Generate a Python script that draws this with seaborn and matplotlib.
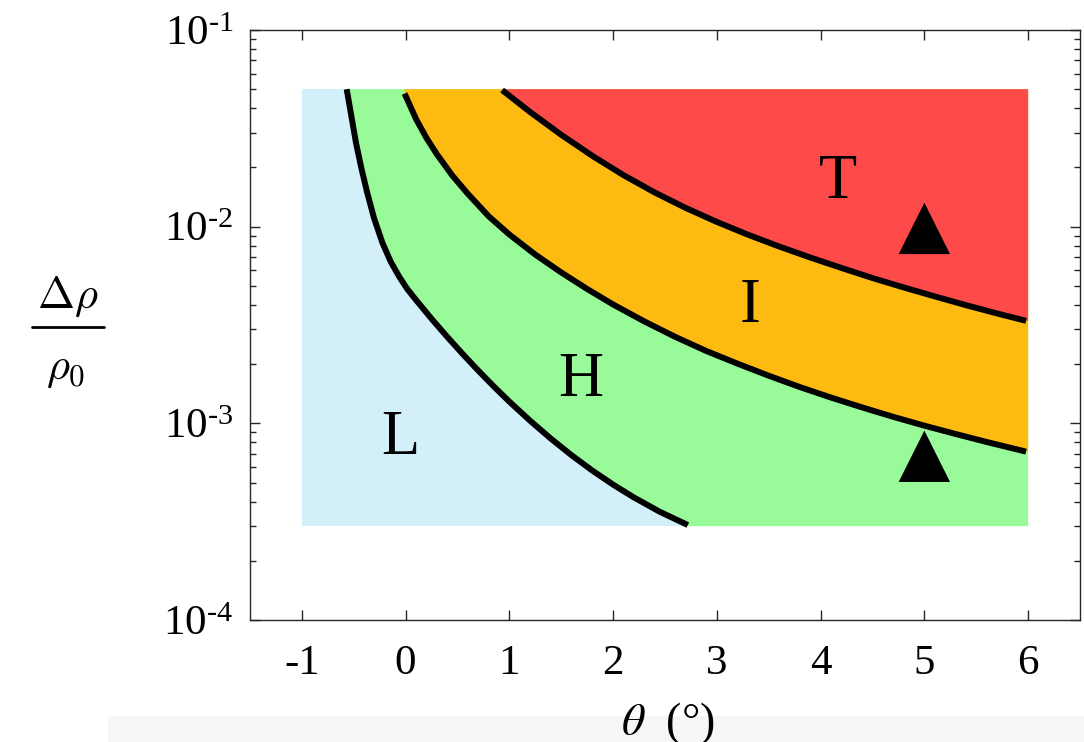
import numpy as np
import pandas as pd
import matplotlib
matplotlib.use("Agg")
import matplotlib.pyplot as plt
import seaborn as sns
from matplotlib.patches import Rectangle
from matplotlib.lines import Line2D
from matplotlib.ticker import LogLocator, FixedLocator, FuncFormatter, NullFormatter

# Regime boundaries in the (theta, delta rho / rho0) plane
theta_lh = [-0.568, -0.525, -0.478, -0.427, -0.372, -0.305, -0.223, -0.142, -0.060, 0.016,
            0.10, 0.25, 0.40, 0.55, 0.70, 0.85, 1.0, 1.2, 1.4, 1.6, 1.8, 2.0, 2.2, 2.45, 2.72]
rho_lh = [0.0500, 0.0370, 0.02664, 0.01988, 0.01501, 0.01107, 0.00826, 0.00661, 0.00555,
          0.00482, 0.00424, 0.00340, 0.002756, 0.002252, 0.001855, 0.001540, 0.001289,
          0.001031, 8.36e-4, 6.88e-4, 5.75e-4, 4.88e-4, 4.20e-4, 3.55e-4, 3.04e-4]

theta_hi = [-0.01, 0.1, 0.2, 0.3, 0.45, 0.6, 0.8, 1.0, 1.25, 1.5, 1.75, 2.0, 2.3, 2.6, 2.9,
            3.2, 3.5, 3.8, 4.1, 4.4, 4.7, 5.0, 5.3, 5.6, 5.98]
rho_hi = [0.0475, 0.0353, 0.0283, 0.0234, 0.0182, 0.01469, 0.0113, 0.00912, 0.00721,
          0.00585, 0.00482, 0.00402, 0.00330, 0.00275, 0.00233, 0.00201, 0.001746,
          0.001529, 0.001352, 0.001205, 0.001079, 9.73e-4, 8.83e-4, 8.04e-4, 7.18e-4]

theta_it = [0.93, 1.2, 1.5, 1.8, 2.1, 2.4, 2.7, 3.0, 3.3, 3.6, 3.9, 4.2, 4.5, 4.8, 5.1,
            5.4, 5.7, 5.98]
rho_it = [0.0495, 0.03828, 0.02931, 0.02291, 0.01828, 0.01493, 0.01245, 0.01057, 0.00910,
          0.00793, 0.00697, 0.00617, 0.00548, 0.00491, 0.00442, 0.00399, 0.00362, 0.00332]

# Parameter-space extent of the map
theta_range = [-1.0, 6.0]
rho_range = [3.0e-4, 5.0e-2]

# Simulated cases
case_theta = [5.0, 5.0]
case_rho = [9.8e-3, 6.8e-4]

# Regime labels
regime_names = ["L", "H", "I", "T"]
regime_theta = [-0.05, 1.69, 3.32, 4.17]
regime_rho = [8.3e-4, 1.64e-3, 3.92e-3, 1.66e-2]

colors = {"L": "#d2effa", "H": "#99fa99", "I": "#fdbb12", "T": "#ff4a4a"}

sns.set_theme(style="white")
plt.rcParams["font.family"] = ["Liberation Serif", "DejaVu Serif"]
plt.rcParams["mathtext.fontset"] = "custom"
plt.rcParams["mathtext.rm"] = "Liberation Serif"
plt.rcParams["mathtext.it"] = "Liberation Serif:italic"
plt.rcParams["text.color"] = "black"
plt.rcParams["xtick.color"] = "black"
plt.rcParams["ytick.color"] = "black"

fig = plt.figure(figsize=(10.84, 7.42), dpi=100)
ax = fig.add_axes([250 / 1084, 122 / 742, 830 / 1084, 590 / 742])

lo, hi = rho_range
x0, x1 = theta_range

# Background regime (L) covers the whole map
ax.fill_between(theta_range, lo, hi, color=colors["L"], lw=0, zorder=1)

# H: everything right of the L/H boundary
poly_x = theta_lh + [theta_lh[-1], x1, x1, theta_lh[0]]
poly_y = rho_lh + [lo, lo, hi, hi]
ax.fill(poly_x, poly_y, color=colors["H"], lw=0, zorder=2)

# I: above the H/I boundary
poly_x = theta_hi + [x1, x1, theta_hi[0]]
poly_y = rho_hi + [rho_hi[-1], hi, hi]
ax.fill(poly_x, poly_y, color=colors["I"], lw=0, zorder=3)

# T: above the I/T boundary
poly_x = theta_it + [x1, x1, theta_it[0]]
poly_y = rho_it + [rho_it[-1], hi, hi]
ax.fill(poly_x, poly_y, color=colors["T"], lw=0, zorder=4)

# Boundary curves
for tx, ry in [(theta_lh, rho_lh), (theta_hi, rho_hi), (theta_it, rho_it)]:
    df = pd.DataFrame({"theta": tx, "rho": ry})
    sns.lineplot(data=df, x="theta", y="rho", sort=False, color="black",
                 lw=4.3, ax=ax, zorder=5, solid_capstyle="butt",
                 solid_joinstyle="round")

# Simulation cases
cases = pd.DataFrame({"theta": case_theta, "rho": case_rho})
sns.scatterplot(data=cases, x="theta", y="rho", marker="^", s=37 ** 2,
                color="black", edgecolor="none", ax=ax, zorder=6)

for name, tx, ry in zip(regime_names, regime_theta, regime_rho):
    ax.text(tx, ry, name, fontsize=45, ha="center", va="center", zorder=7,
            color="black")

ax.set_yscale("log")
ax.set_xlim(-1.5, 6.5)
ax.set_ylim(1e-4, 1e-1)
ax.set_xlabel("")
ax.set_ylabel("")

ax.xaxis.set_major_locator(FixedLocator(range(-1, 7)))
ax.xaxis.set_major_formatter(FuncFormatter(lambda v, p: f"{int(round(v))}"))
ax.yaxis.set_major_locator(FixedLocator([1e-4, 1e-3, 1e-2, 1e-1]))
ax.yaxis.set_major_formatter(FuncFormatter(
    lambda v, p: r"$\mathregular{10^{\text{-}%d}}$" % abs(int(round(np.log10(v))))))
ax.yaxis.set_minor_locator(LogLocator(base=10, subs=np.arange(2, 10), numticks=20))
ax.yaxis.set_minor_formatter(NullFormatter())

spine_color = "#262626"
for s in ax.spines.values():
    s.set_visible(True)
    s.set_color(spine_color)
    s.set_linewidth(1.0)

ax.tick_params(axis="both", which="major", direction="in", length=7, width=1.0,
               color=spine_color, labelsize=31, labelcolor="black", top=True,
               right=True, bottom=True, left=True)
ax.tick_params(axis="y", which="minor", direction="in", length=4, width=1.0,
               color=spine_color, left=True, right=True)
ax.tick_params(axis="x", which="major", pad=18)
ax.tick_params(axis="y", which="major", pad=12)

# Vertical-axis quantity, written as a stacked fraction
fig.text(68 / 1084, 1 - 297 / 742, r"$\Delta\rho$", fontsize=32, ha="center",
         va="center", math_fontfamily="cm", color="black")
fig.add_artist(Line2D([32 / 1084, 104 / 1084], [1 - 327 / 742, 1 - 327 / 742],
                      transform=fig.transFigure, color="black", lw=2.0))
fig.text(66 / 1084, 1 - 370 / 742, r"$\rho_0$", fontsize=32, ha="center",
         va="center", math_fontfamily="cm", color="black")

# Bottom strip and horizontal-axis label
fig.patches.append(Rectangle((108 / 1084, 0), 1 - 108 / 1084, 26 / 742,
                             transform=fig.transFigure, facecolor="#f6f6f6",
                             edgecolor="none", zorder=0))
fig.text(668 / 1084, 1 - 724 / 742, r"$\theta$  (°)", fontsize=33,
         ha="center", va="center", math_fontfamily="stix", zorder=3,
         color="black")

fig.savefig("out.png", dpi=100)
